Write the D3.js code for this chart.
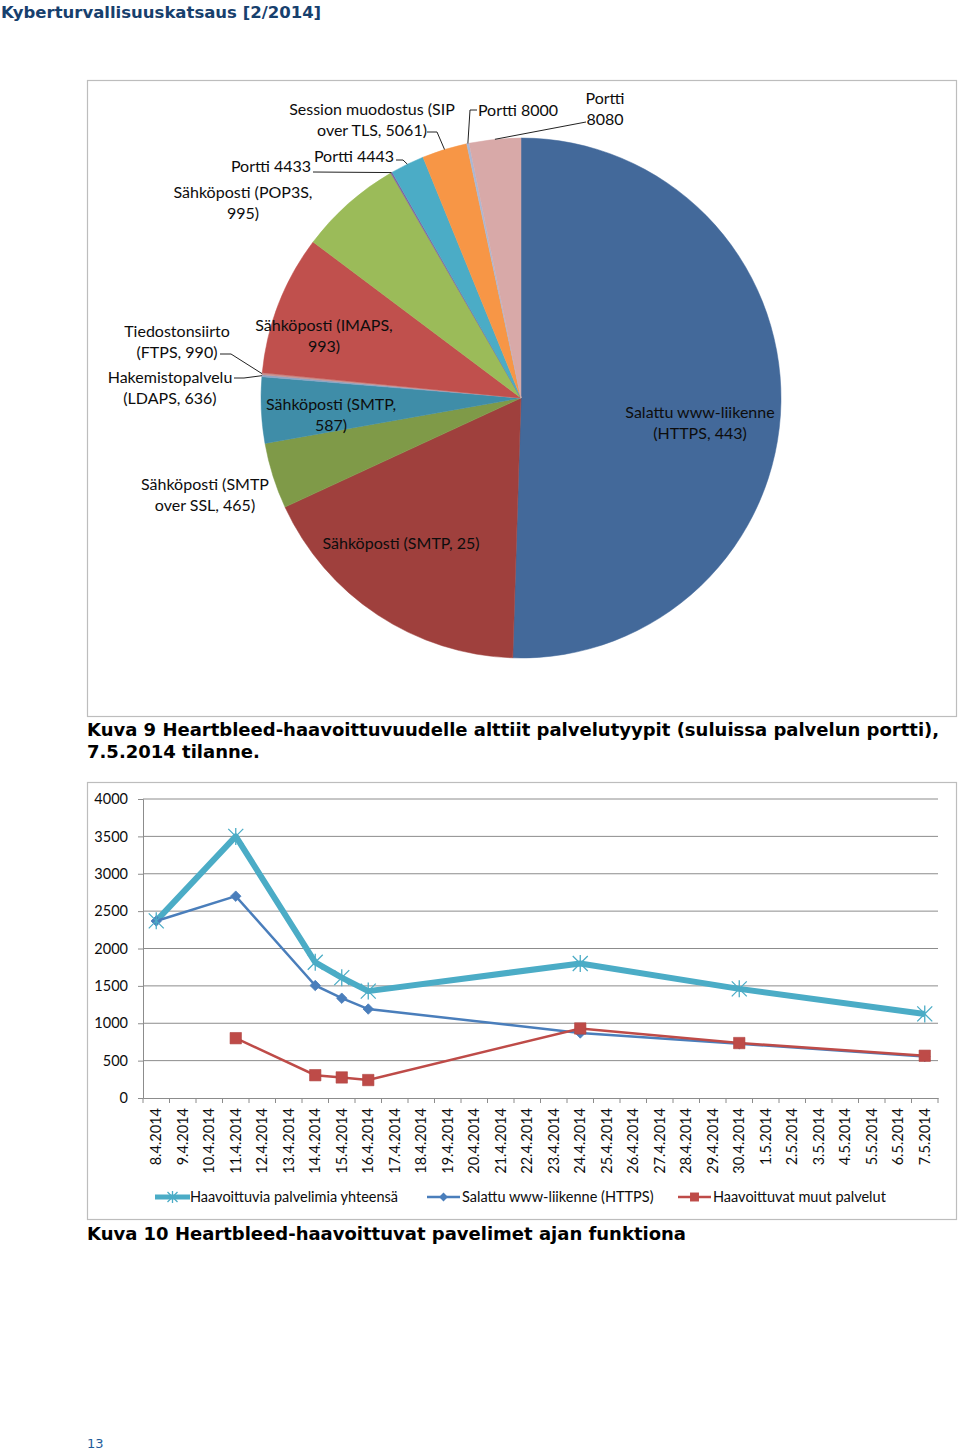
<!DOCTYPE html>
<html><head><meta charset="utf-8">
<script src="https://cdn.jsdelivr.net/npm/d3@7"></script>
<style>
html,body{margin:0;padding:0;background:#fff;}
svg{display:block;}
</style></head>
<body>
<script>
// ---------- DATA ----------
const pieCategories = [
  "Salattu www-liikenne (HTTPS, 443)",
  "Sähköposti (SMTP, 25)",
  "Sähköposti (SMTP over SSL, 465)",
  "Sähköposti (SMTP, 587)",
  "Hakemistopalvelu (LDAPS, 636)",
  "Tiedostonsiirto (FTPS, 990)",
  "Sähköposti (IMAPS, 993)",
  "Sähköposti (POP3S, 995)",
  "Portti 4433",
  "Portti 4443",
  "Session muodostus (SIP over TLS, 5061)",
  "Portti 8000",
  "Portti 8080"
];
const pieValues = [50.5, 17.6, 4.1, 4.1, 0.12, 0.12, 8.7, 6.4, 0.1, 2.1, 2.8, 0.15, 3.2];
const pieColors = ["#43699A","#9F403D","#7F9A48","#3F8DA8","#8FA5C4","#C8908E","#C0504D","#9BBB59","#8064A2","#4BACC6","#F79646","#A9B8D6","#D8A9A8"];

const dateLabels = ["8.4.2014","9.4.2014","10.4.2014","11.4.2014","12.4.2014","13.4.2014","14.4.2014","15.4.2014","16.4.2014","17.4.2014","18.4.2014","19.4.2014","20.4.2014","21.4.2014","22.4.2014","23.4.2014","24.4.2014","25.4.2014","26.4.2014","27.4.2014","28.4.2014","29.4.2014","30.4.2014","1.5.2014","2.5.2014","3.5.2014","4.5.2014","5.5.2014","6.5.2014","7.5.2014"];
const pointDates = ["8.4.2014","11.4.2014","14.4.2014","15.4.2014","16.4.2014","24.4.2014","30.4.2014","7.5.2014"];
const totalValues = [2370, 3500, 1815, 1610, 1430, 1800, 1460, 1125];
const httpsValues = [2368, 2700, 1505, 1335, 1190, 870, 725, 555];
const otherValues = [null, 800, 305, 275, 240, 930, 735, 565];
const seriesNames = ["Haavoittuvia palvelimia yhteensä","Salattu www-liikenne (HTTPS)","Haavoittuvat muut palvelut"];
const yTicks = [0, 500, 1000, 1500, 2000, 2500, 3000, 3500, 4000];

// ---------- LAYOUT ----------
const W = 960, H = 1455;
const svg = d3.select("body").append("svg").attr("width", W).attr("height", H);
const chartFont = "Lato, 'Open Sans', sans-serif";
const capFont = "'DejaVu Sans', Verdana, sans-serif";
const txtCol = "#0d0d0d";

// header
svg.append("text").attr("x", 1).attr("y", 18)
  .attr("font-family", capFont).attr("font-weight", "bold").attr("font-size", 16.5)
  .attr("fill", "#17406D").text("Kyberturvallisuuskatsaus [2/2014]");

// ---------- PIE ----------
svg.append("rect").attr("x", 87.5).attr("y", 80.5).attr("width", 869).attr("height", 636)
  .attr("fill", "#fff").attr("stroke", "#bdbdbd").attr("stroke-width", 1.2);

const cx = 521, cy = 398, R = 260;
const pieG = svg.append("g").attr("transform", `translate(${cx},${cy})`);
const pie = d3.pie().sort(null).value(d => d)(pieValues);
const arc = d3.arc().innerRadius(0).outerRadius(R);
pieG.selectAll("path").data(pie).join("path")
  .attr("d", arc).attr("fill", (d, i) => pieColors[i])
  .attr("stroke", (d, i) => pieColors[i]).attr("stroke-width", 0.5);

const labelLayout = [
  {i:0, lines:["Salattu www-liikenne","(HTTPS, 443)"], x:700, y:418},
  {i:1, lines:["Sähköposti (SMTP, 25)"], x:401, y:549},
  {i:2, lines:["Sähköposti (SMTP","over SSL, 465)"], x:205, y:490},
  {i:3, lines:["Sähköposti (SMTP,","587)"], x:331, y:410},
  {i:4, lines:["Hakemistopalvelu","(LDAPS, 636)"], x:170, y:383, leader:[[234,378],[244,378]]},
  {i:5, lines:["Tiedostonsiirto","(FTPS, 990)"], x:177, y:337, leader:[[220,354],[231,354]]},
  {i:6, lines:["Sähköposti (IMAPS,","993)"], x:324, y:331},
  {i:7, lines:["Sähköposti (POP3S,","995)"], x:243, y:198},
  {i:8, lines:["Portti 4433"], x:271, y:172, leader:[[313,172]]},
  {i:9, lines:["Portti 4443"], x:354, y:162, leader:[[396,160],[403,160]]},
  {i:10, lines:["Session muodostus (SIP","over TLS, 5061)"], x:372, y:115, leader:[[427,132],[437,132]]},
  {i:11, lines:["Portti 8000"], x:518, y:116, leader:[[477,110],[470,110]]},
  {i:12, lines:["Portti","8080"], x:605, y:104, leader:[[586,122]]}
];
const lineH = 21;
labelLayout.forEach(L => {
  const t = svg.append("text").attr("font-family", chartFont).attr("font-size", 16)
    .attr("fill", txtCol).attr("text-anchor", "middle");
  L.lines.forEach((s, k) => t.append("tspan").attr("x", L.x).attr("y", L.y + k * lineH).text(s));
  if (L.leader) {
    const d = pie[L.i];
    const a = (d.startAngle + d.endAngle) / 2;
    const end = [cx + R * Math.sin(a), cy - R * Math.cos(a)];
    const pts = L.leader.concat([end]);
    svg.append("path").attr("d", d3.line()(pts)).attr("fill", "none")
      .attr("stroke", "#222").attr("stroke-width", 1);
  }
});

// caption 9
const cap9 = svg.append("text").attr("font-family", capFont).attr("font-weight", "bold")
  .attr("font-size", 18).attr("fill", "#000");
cap9.append("tspan").attr("x", 87).attr("y", 736).text("Kuva 9 Heartbleed-haavoittuvuudelle alttiit palvelutyypit (suluissa palvelun portti),");
cap9.append("tspan").attr("x", 87).attr("y", 758).text("7.5.2014 tilanne.");

// ---------- LINE CHART ----------
svg.append("rect").attr("x", 87.5).attr("y", 782.5).attr("width", 869).attr("height", 437)
  .attr("fill", "#fff").attr("stroke", "#bdbdbd").attr("stroke-width", 1.2);

const px0 = 143, px1 = 938, py0 = 1098, py1 = 799;
const x = d3.scaleBand().domain(dateLabels).range([px0, px1]);
const y = d3.scaleLinear().domain([0, 4000]).range([py0, py1]);
const xc = d => x(d) + x.bandwidth() / 2;

svg.append("g").selectAll("line").data(yTicks.filter(v => v > 0)).join("line")
  .attr("x1", px0).attr("x2", px1).attr("y1", d => y(d)).attr("y2", d => y(d))
  .attr("stroke", "#8c8c8c").attr("stroke-width", 1);

const yAxis = svg.append("g").attr("transform", `translate(${px0},0)`)
  .call(d3.axisLeft(y).tickValues(yTicks).tickFormat(d3.format("d")).tickSize(5).tickPadding(10));
yAxis.select(".domain").attr("stroke", "#8c8c8c");
yAxis.selectAll(".tick line").attr("stroke", "#8c8c8c");
yAxis.selectAll("text").attr("font-family", chartFont).attr("font-size", 14.5).attr("fill", txtCol);

const xAxis = svg.append("g").attr("transform", `translate(0,${py0})`)
  .call(d3.axisBottom(x).tickSize(0).tickSizeOuter(0));
xAxis.select(".domain").attr("stroke", "#8c8c8c");
xAxis.selectAll(".tick line").remove();
svg.append("g").selectAll("line").data(dateLabels.concat(["__end"])).join("line")
  .attr("x1", (d, i) => i < dateLabels.length ? x(d) : px1)
  .attr("x2", (d, i) => i < dateLabels.length ? x(d) : px1)
  .attr("y1", py0).attr("y2", py0 + 5).attr("stroke", "#8c8c8c");
xAxis.selectAll("text")
  .attr("font-family", chartFont).attr("font-size", 14.5).attr("fill", txtCol)
  .attr("transform", "rotate(-90)").attr("text-anchor", "end")
  .attr("x", -10).attr("y", 0).attr("dy", "0.35em");

function pts(vals) {
  return pointDates.map((d, i) => ({d, v: vals[i]})).filter(p => p.v != null);
}
const line = d3.line().x(p => xc(p.d)).y(p => y(p.v));

const colTotal = "#4BACC6", colHttps = "#4A7EBB", colOther = "#BE4B48";

const totalPts = pts(totalValues);
svg.append("path").attr("d", line(totalPts)).attr("fill", "none")
  .attr("stroke", colTotal).attr("stroke-width", 6).attr("stroke-linejoin", "round");
const httpsPts = pts(httpsValues);
svg.append("path").attr("d", line(httpsPts)).attr("fill", "none")
  .attr("stroke", colHttps).attr("stroke-width", 2.5);
const otherPts = pts(otherValues);
svg.append("path").attr("d", line(otherPts)).attr("fill", "none")
  .attr("stroke", colOther).attr("stroke-width", 2.5);

function star(g, cxp, cyp, s, col) {
  const h = s / 2;
  g.append("path").attr("d", `M${cxp-h},${cyp-h}L${cxp+h},${cyp+h}M${cxp+h},${cyp-h}L${cxp-h},${cyp+h}M${cxp},${cyp-h-1}L${cxp},${cyp+h+1}`)
    .attr("stroke", col).attr("stroke-width", 1.3).attr("fill", "none");
}
const diamond = d3.symbol().type(d3.symbolDiamond2 || d3.symbolDiamond).size(70);
const square = d3.symbol().type(d3.symbolSquare).size(130);

const mk = svg.append("g");
httpsPts.forEach(p => mk.append("path").attr("d", diamond())
  .attr("transform", `translate(${xc(p.d)},${y(p.v)})`)
  .attr("fill", colHttps).attr("stroke", colHttps).attr("stroke-width", 0.8));
otherPts.forEach(p => mk.append("path").attr("d", square())
  .attr("transform", `translate(${xc(p.d)},${y(p.v)})`)
  .attr("fill", colOther).attr("stroke", "#B04441").attr("stroke-width", 0.6));
totalPts.forEach(p => star(mk, xc(p.d), y(p.v), 15, colTotal));

const legY = 1197;
const legend = [
  {x0:155, x1:190, tx:190, col:colTotal, w:5, m:"star", name:seriesNames[0]},
  {x0:427, x1:460, tx:462, col:colHttps, w:2.5, m:"diamond", name:seriesNames[1]},
  {x0:678, x1:711, tx:713, col:colOther, w:2.5, m:"square", name:seriesNames[2]}
];
legend.forEach(L => {
  svg.append("line").attr("x1", L.x0).attr("x2", L.x1).attr("y1", legY).attr("y2", legY)
    .attr("stroke", L.col).attr("stroke-width", L.w);
  const mx = (L.x0 + L.x1) / 2;
  if (L.m === "star") star(svg, mx, legY, 10, L.col);
  else if (L.m === "diamond") svg.append("path").attr("d", d3.symbol().type(d3.symbolDiamond2 || d3.symbolDiamond).size(50)())
    .attr("transform", `translate(${mx},${legY})`).attr("fill", L.col);
  else svg.append("path").attr("d", d3.symbol().type(d3.symbolSquare).size(80)())
    .attr("transform", `translate(${mx},${legY})`).attr("fill", L.col);
  svg.append("text").attr("x", L.tx).attr("y", legY + 5)
    .attr("font-family", chartFont).attr("font-size", 14.5).attr("fill", txtCol).text(L.name);
});

svg.append("text").attr("x", 87).attr("y", 1240)
  .attr("font-family", capFont).attr("font-weight", "bold").attr("font-size", 18)
  .attr("fill", "#000").text("Kuva 10 Heartbleed-haavoittuvat pavelimet ajan funktiona");

svg.append("text").attr("x", 87).attr("y", 1448)
  .attr("font-family", capFont).attr("font-size", 13).attr("fill", "#1F5C99").text("13");
</script>
</body></html>
